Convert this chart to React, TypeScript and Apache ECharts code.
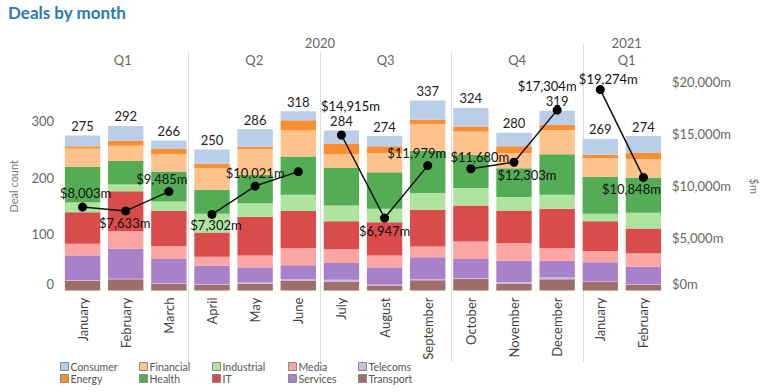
import React, { useEffect, useRef } from 'react';
import * as echarts from 'echarts';

const months = ['January', 'February', 'March', 'April', 'May', 'June', 'July', 'August', 'September', 'October', 'November', 'December', 'January', 'February'];
const quarterOf = [0, 0, 0, 1, 1, 1, 2, 2, 2, 3, 3, 3, 4, 4];
const quarterLabels = ['Q1', 'Q2', 'Q3', 'Q4', 'Q1'];
const yearLabels = ['2020', '2021'];
const yearOf = [0, 0, 0, 0, 0, 0, 0, 0, 0, 0, 0, 0, 1, 1];

const transport = [17, 20, 12, 10, 12, 17, 15, 8, 18, 21, 12, 20, 15, 10];
const telecoms = [1, 1, 1, 1, 2, 3, 4, 2, 2, 1, 3, 3, 1, 1];
const services = [44, 53, 43, 33, 27, 25, 30, 31, 39, 34, 38, 30, 34, 31];
const media = [21, 31, 23, 16, 21, 30, 24, 21, 19, 31, 31, 22, 20, 24];
const it = [56, 71, 62, 43, 69, 66, 50, 59, 65, 64, 58, 70, 53, 44];
const industrial = [17, 12, 17, 33, 24, 29, 28, 24, 30, 31, 24, 25, 13, 28];
const health = [63, 42, 53, 43, 50, 68, 67, 65, 75, 59, 51, 72, 66, 62];
const financial = [33, 27, 31, 38, 46, 46, 24, 34, 47, 41, 27, 43, 33, 33];
const energy = [4, 9, 9, 8, 4, 18, 19, 12, 8, 9, 12, 9, 6, 12];
const consumer = [19, 26, 15, 25, 31, 16, 23, 18, 34, 33, 24, 25, 28, 29];

const dealCount = [275, 292, 266, 250, 286, 318, 284, 274, 337, 324, 280, 319, 269, 274];
const dealValue = [8003, 7633, 9485, 7302, 10021, 11400, 14915, 6947, 11979, 11680, 12303, 17304, 19274, 10848];
const valueLabelShown = [true, true, true, true, true, false, true, true, true, true, true, true, true, true];

const leftTicks = [0, 100, 200, 300];
const rightTicks = [0, 5000, 10000, 15000, 20000];

const legendRow1 = ['Consumer', 'Financial', 'Industrial', 'Media', 'Telecoms'];
const legendRow2 = ['Energy', 'Health', 'IT', 'Services', 'Transport'];

// styling / layout (not data)
const sectorSeries: [string, number[], string][] = [
  ['Transport', transport, '#9d6f68'],
  ['Telecoms', telecoms, '#cdbbdc'],
  ['Services', services, '#a781c9'],
  ['Media', media, '#fba5a4'],
  ['IT', it, '#d94c4c'],
  ['Industrial', industrial, '#aee3a0'],
  ['Health', health, '#54ad54'],
  ['Financial', financial, '#fec28c'],
  ['Energy', energy, '#f98f33'],
  ['Consumer', consumer, '#bacde9'],
];

const labelPlace: [string, number, number][] = [
  ['top', 3, 2], ['bottom', -1, -4], ['top', -7, 3],
  ['bottom', 4, -5], ['top', 0, 3], ['top', 0, 3],
  ['top', 9, -13], ['bottom', 0, -3], ['top', -11, 3],
  ['top', 9, 4], ['bottom', 13, -3], ['top', -10, -8],
  ['top', 8, 5], ['bottom', -12, -4],
];

const W = 768;
const H = 392;
const GRID_LEFT = 57;
const GRID_RIGHT = 97.5;
const GRID_TOP = 82;
const GRID_BOTTOM = 101.5;
const FONT = 'Lato, "Open Sans", sans-serif';
const legendCols = [60, 139, 212, 288, 358];
const legendRows = [361, 373];

const fmtMoney = (v: number) => '$' + v.toLocaleString('en-US') + 'm';

export default function App() {
  const ref = useRef<HTMLDivElement>(null);
  useEffect(() => {
    if (!ref.current) return;
    const chart = echarts.init(ref.current, undefined, { renderer: 'svg', width: W, height: H });
    const band = (W - GRID_LEFT - GRID_RIGHT) / months.length;
    const xAt = (i: number) => GRID_LEFT + i * band;

    const graphics: any[] = [];
    const qStarts: number[] = [];
    months.forEach((_, i) => {
      if (i === 0 || quarterOf[i] !== quarterOf[i - 1]) qStarts.push(i);
    });
    qStarts.forEach((s, k) => {
      const e = k + 1 < qStarts.length ? qStarts[k + 1] : months.length;
      graphics.push({
        type: 'text',
        x: (xAt(s) + xAt(e)) / 2,
        y: 60,
        style: { text: quarterLabels[quarterOf[s]], fill: '#666', font: `13px ${FONT}`, align: 'center', verticalAlign: 'middle' },
      });
      if (s > 0) {
        const yearBreak = yearOf[s] !== yearOf[s - 1];
        graphics.push({
          type: 'line',
          shape: { x1: Math.round(xAt(s)) + 0.5, y1: yearBreak ? 43 : 52, x2: Math.round(xAt(s)) + 0.5, y2: 362 },
          style: { stroke: '#dcdcdc', lineWidth: 1 },
          z: -1,
        });
      }
    });
    const yStarts: number[] = [];
    months.forEach((_, i) => {
      if (i === 0 || yearOf[i] !== yearOf[i - 1]) yStarts.push(i);
    });
    yStarts.forEach((s, k) => {
      const e = k + 1 < yStarts.length ? yStarts[k + 1] : months.length;
      graphics.push({
        type: 'text',
        x: (xAt(s) + xAt(e)) / 2,
        y: 43,
        style: { text: yearLabels[yearOf[s]], fill: '#666', font: `13px ${FONT}`, align: 'center', verticalAlign: 'middle' },
      });
    });

    const barSeries = sectorSeries.map(([name, data, color], idx) => ({
      name,
      type: 'bar',
      stack: 'deals',
      data,
      barCategoryGap: '18%',
      itemStyle: { color },
      label:
        idx === sectorSeries.length - 1
          ? {
              show: true,
              position: 'top',
              distance: 3,
              color: '#222',
              fontSize: 13,
              fontFamily: FONT,
              formatter: (p: any) => String(dealCount[p.dataIndex]),
            }
          : { show: false },
      emphasis: { disabled: true },
    }));

    const lineSeries = quarterLabels.map((_, q) => ({
      name: 'value' + q,
      type: 'line',
      yAxisIndex: 1,
      z: 10,
      symbol: 'circle',
      symbolSize: 9,
      lineStyle: { color: '#111', width: 1.5 },
      itemStyle: { color: '#000' },
      connectNulls: false,
      emphasis: { disabled: true },
      data: months.map((_, i) =>
        quarterOf[i] === q
          ? {
              value: dealValue[i],
              label: {
                show: valueLabelShown[i],
                position: labelPlace[i][0],
                offset: [labelPlace[i][1], labelPlace[i][2]],
                formatter: () => fmtMoney(dealValue[i]),
                color: '#111',
                fontSize: 13,
                fontFamily: FONT,
              },
            }
          : '-'
      ),
    }));

    const legends: any[] = [];
    [legendRow1, legendRow2].forEach((row, r) => {
      row.forEach((name, c) => {
        legends.push({
          data: [name],
          left: legendCols[c],
          top: legendRows[r],
          padding: 0,
          itemWidth: 8,
          itemHeight: 8,
          itemGap: 0,
          icon: 'rect',
          itemStyle: { borderColor: '#8a8a8a', borderWidth: 1 },
          textStyle: { color: '#555', fontSize: 10.5, lineHeight: 10, fontFamily: FONT, padding: [0, 0, 0, -3] },
          selectedMode: false,
        });
      });
    });

    const zeroRich = { z: { padding: [0, 0, 14, 0], color: '#666', fontSize: 13, fontFamily: FONT } };

    chart.setOption({
      animation: false,
      textStyle: { fontFamily: FONT },
      title: {
        text: 'Deals by month',
        left: 8,
        top: 4,
        padding: 0,
        textStyle: { fontSize: 17, fontWeight: 'bold', color: '#2b7ab4', fontFamily: FONT },
      },
      legend: legends,
      grid: { left: GRID_LEFT, right: GRID_RIGHT, top: GRID_TOP, bottom: GRID_BOTTOM },
      xAxis: {
        type: 'category',
        data: months,
        axisLine: { show: false },
        axisTick: { show: false },
        axisLabel: { rotate: 90, margin: 7, color: '#444', fontSize: 13, fontFamily: FONT, interval: 0 },
      },
      yAxis: [
        {
          type: 'value',
          min: 0,
          max: 370,
          interval: 100,
          name: 'Deal count',
          nameLocation: 'middle',
          nameGap: 42,
          nameTextStyle: { color: '#777', fontSize: 11, fontFamily: FONT },
          splitLine: { show: false },
          axisLine: { show: false },
          axisTick: { show: false },
          axisLabel: {
            color: '#666',
            fontSize: 13,
            margin: 7,
            fontFamily: FONT,
            rich: zeroRich,
            formatter: (v: number) => (v === 0 ? '{z|0}' : leftTicks.includes(v) ? String(v) : ''),
          },
        },
        {
          type: 'value',
          min: 0,
          max: 20000,
          interval: 5000,
          position: 'right',
          name: '$m',
          nameLocation: 'middle',
          nameGap: 84,
          nameRotate: -90,
          nameTextStyle: { color: '#777', fontSize: 11, fontFamily: FONT },
          splitLine: { show: false },
          axisLine: { show: false },
          axisTick: { show: false },
          axisLabel: {
            color: '#666',
            fontSize: 13,
            margin: 7,
            fontFamily: FONT,
            rich: zeroRich,
            formatter: (v: number) => (v === 0 ? '{z|' + fmtMoney(v) + '}' : rightTicks.includes(v) ? fmtMoney(v) : ''),
          },
        },
      ],
      graphic: graphics,
      series: [...barSeries, ...lineSeries],
    });
    return () => chart.dispose();
  }, []);
  return <div ref={ref} style={{ position: 'absolute', left: 0, top: 0, width: W, height: H }} />;
}
